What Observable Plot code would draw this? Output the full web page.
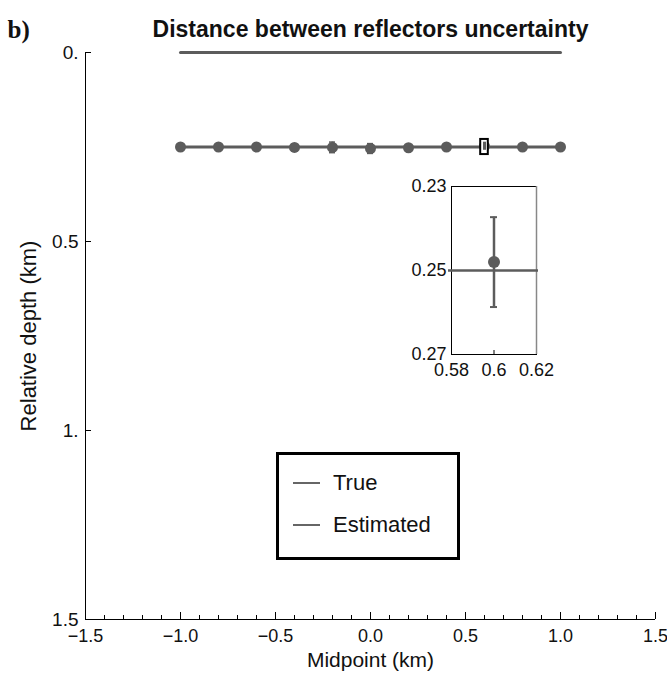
<!DOCTYPE html>
<html>
<head>
<meta charset="utf-8">
<script src="https://cdn.jsdelivr.net/npm/d3@7"></script>
<script src="https://cdn.jsdelivr.net/npm/@observablehq/plot@0.6"></script>
<style>
  html, body { margin: 0; padding: 0; background: white; }
  #wrap { position: relative; width: 667px; height: 675px; font-family: "Liberation Sans", Arial, sans-serif; }
  #wrap > div.abs { position: absolute; }
  #legend { position: absolute; left: 276px; top: 452px; width: 184px; height: 108px; box-sizing: border-box; border: 3px solid black; background: white; }
  .li { position: absolute; left: 14px; display: flex; align-items: center; font-size: 22px; color: #111; line-height: 26px; }
  .li span.sw { display: inline-block; width: 27px; height: 0; border-top: 2.5px solid #666; margin-right: 13px; }
</style>
</head>
<body>
<div id="wrap"></div>
<script>
// ---- data ----
const midpoints = [-1, -0.8, -0.6, -0.4, -0.2, 0, 0.2, 0.4, 0.6, 0.8, 1];
const estDepths = [0.25, 0.25, 0.25, 0.251, 0.251, 0.254, 0.252, 0.25, 0.248, 0.25, 0.25];
const estErrors = [0.003, 0.003, 0.004, 0.008, 0.014, 0.013, 0.008, 0.005, 0.0107, 0.004, 0.003];
const trueLineX = [-1, 1];
const trueLineDepth = [0, 0];
const estLineX = [-1, 1];
const estLineDepth = [0.25, 0.25];
const xTicks = [-1.5, -1, -0.5, 0, 0.5, 1, 1.5];
const xTickLabels = ["\u22121.5", "\u22121.0", "\u22120.5", "0.0", "0.5", "1.0", "1.5"];
const xMinorTicks = [-1.4,-1.3,-1.2,-1.1,-0.9,-0.8,-0.7,-0.6,-0.4,-0.3,-0.2,-0.1,0.1,0.2,0.3,0.4,0.6,0.7,0.8,0.9,1.1,1.2,1.3,1.4];
const yTicks = [0, 0.5, 1, 1.5];
const yTickLabels = ["0.", "0.5", "1.", "1.5"];
const insetXDomain = [0.58, 0.62];
const insetYDomain = [0.23, 0.27];
const insetXTicks = [0.58, 0.6, 0.62];
const insetXTickLabels = ["0.58", "0.6", "0.62"];
const insetYTicks = [0.23, 0.25, 0.27];
const insetYTickLabels = ["0.23", "0.25", "0.27"];
const insetMidpoint = 0.6;
const legendLabels = ["True", "Estimated"];
const titleText = "Distance between reflectors uncertainty";
const panelLabel = "b)";

// ---- build tables ----
const pts = midpoints.map((x, i) => ({x, y: estDepths[i], e: estErrors[i]}));
const trueLine = trueLineX.map((x, i) => ({x, y: trueLineDepth[i]}));
const estLine = estLineX.map((x, i) => ({x, y: estLineDepth[i]}));
const insetPts = pts.filter(d => d.x === insetMidpoint);
const insetBox = [{x1: insetXDomain[0], x2: insetXDomain[1], y1: insetYDomain[0], y2: insetYDomain[1]}];

const gray = "#5c5c5c";
const W = 667, H = 675, mL = 85, mR = 12, mT = 52, mB = 56;
const fw = W - mL - mR, fh = H - mT - mB;
const font = "'Liberation Sans', Arial, sans-serif";

const main = Plot.plot({
  width: W, height: H,
  marginLeft: mL, marginRight: mR, marginTop: mT, marginBottom: mB,
  style: {fontFamily: font, fontSize: "18px", background: "white", overflow: "visible", color: "#111"},
  x: {domain: [-1.5, 1.5]},
  y: {domain: [0, 1.5], reverse: true},
  marks: [
    Plot.ruleX([-1.5], {stroke: "black", strokeWidth: 1}),
    Plot.ruleY([1.5], {stroke: "black", strokeWidth: 1}),
    Plot.tickX(xMinorTicks, {insetTop: fh - 4, stroke: "black"}),
    Plot.tickX(xTicks, {insetTop: fh - 7, stroke: "black"}),
    Plot.tickY(yTicks, {insetRight: fw - 6, stroke: "black"}),
    Plot.axisX({ticks: xTicks, tickSize: 0, tickPadding: 10, label: null, fontSize: 18,
      tickFormat: d => xTickLabels[xTicks.indexOf(d)]}),
    Plot.axisY({ticks: yTicks, tickSize: 0, tickPadding: 7, label: null, fontSize: 19,
      tickFormat: d => yTickLabels[yTicks.indexOf(d)]}),
    Plot.line(trueLine, {x: "x", y: "y", stroke: gray, strokeWidth: 3}),
    Plot.line(estLine, {x: "x", y: "y", stroke: gray, strokeWidth: 3}),
    Plot.ruleX(pts, {x: "x", y1: d => d.y - d.e, y2: d => d.y + d.e, stroke: gray, strokeWidth: 2}),
    Plot.ruleY(pts, {y: d => d.y - d.e, x1: "x", x2: "x", insetLeft: -3, insetRight: -3, stroke: gray, strokeWidth: 1.5}),
    Plot.ruleY(pts, {y: d => d.y + d.e, x1: "x", x2: "x", insetLeft: -3, insetRight: -3, stroke: gray, strokeWidth: 1.5}),
    Plot.dot(pts, {x: "x", y: "y", r: 5.5, fill: gray}),
    Plot.rect(insetBox, {x1: "x1", x2: "x2", y1: "y1", y2: "y2", fill: "white", stroke: "black", strokeWidth: 2}),
    Plot.ruleX(insetPts, {x: "x", y1: d => d.y - d.e, y2: d => d.y + d.e, stroke: gray, strokeWidth: 3}),
    Plot.text([titleText], {frameAnchor: "top", dy: -32, fontWeight: "bold", fontSize: 23, fill: "#111"}),
    Plot.text([panelLabel], {frameAnchor: "top-left", dx: -78, dy: -32, textAnchor: "start", fontWeight: "bold", fontSize: 25, fontFamily: "'Liberation Serif', 'Times New Roman', serif", fill: "#111"}),
    Plot.text(["Relative depth (km)"], {frameAnchor: "left", textAnchor: "middle", dx: -57, rotate: -90, fontSize: 22, fill: "#111"}),
    Plot.text(["Midpoint (km)"], {frameAnchor: "bottom", dy: 47, fontSize: 21, fill: "#111"})
  ]
});

const iW = 150, iH = 220, iL = 51, iR = 14, iT = 16, iB = 36;
const inset = Plot.plot({
  width: iW, height: iH,
  marginLeft: iL, marginRight: iR, marginTop: iT, marginBottom: iB,
  style: {fontFamily: font, fontSize: "18px", background: "transparent", overflow: "visible", color: "#111"},
  x: {domain: insetXDomain},
  y: {domain: insetYDomain, reverse: true},
  marks: [
    Plot.frame({stroke: "black", strokeWidth: 1}),
    Plot.ruleX([insetXDomain[1]], {stroke: "#888", strokeWidth: 1.5}),
    Plot.tickX([insetMidpoint], {insetTop: (iH - iT - iB) - 4, stroke: "black"}),
    Plot.axisX({ticks: insetXTicks, tickSize: 0, tickPadding: 9, label: null, fontSize: 18,
      tickFormat: d => insetXTickLabels[insetXTicks.indexOf(d)]}),
    Plot.axisY({ticks: insetYTicks, tickSize: 0, tickPadding: 5, label: null, fontSize: 18,
      tickFormat: d => insetYTickLabels[insetYTicks.indexOf(d)]}),
    Plot.ruleY([estLineDepth[0]], {insetLeft: -3, insetRight: -2, stroke: gray, strokeWidth: 2.5}),
    Plot.ruleX(insetPts, {x: "x", y1: d => d.y - d.e, y2: d => d.y + d.e, stroke: gray, strokeWidth: 2.5}),
    Plot.ruleY(insetPts, {y: d => d.y - d.e, x1: "x", x2: "x", insetLeft: -3.5, insetRight: -3.5, stroke: gray, strokeWidth: 2}),
    Plot.ruleY(insetPts, {y: d => d.y + d.e, x1: "x", x2: "x", insetLeft: -3.5, insetRight: -3.5, stroke: gray, strokeWidth: 2}),
    Plot.dot(insetPts, {x: "x", y: "y", r: 6, fill: gray})
  ]
});

const wrap = document.getElementById("wrap");
const m = document.createElement("div"); m.className = "abs"; m.style.left = "0px"; m.style.top = "0px";
m.appendChild(main); wrap.appendChild(m);
const ins = document.createElement("div"); ins.className = "abs"; ins.style.left = "400px"; ins.style.top = "170px";
ins.appendChild(inset); wrap.appendChild(ins);

const leg = document.createElement("div"); leg.id = "legend";
legendLabels.forEach((lab, i) => {
  const it = document.createElement("div"); it.className = "li";
  it.style.top = (i === 0 ? 15 : 57) + "px";
  const sw = document.createElement("span"); sw.className = "sw";
  it.appendChild(sw); it.appendChild(document.createTextNode(lab));
  leg.appendChild(it);
});
wrap.appendChild(leg);
</script>
</body>
</html>
